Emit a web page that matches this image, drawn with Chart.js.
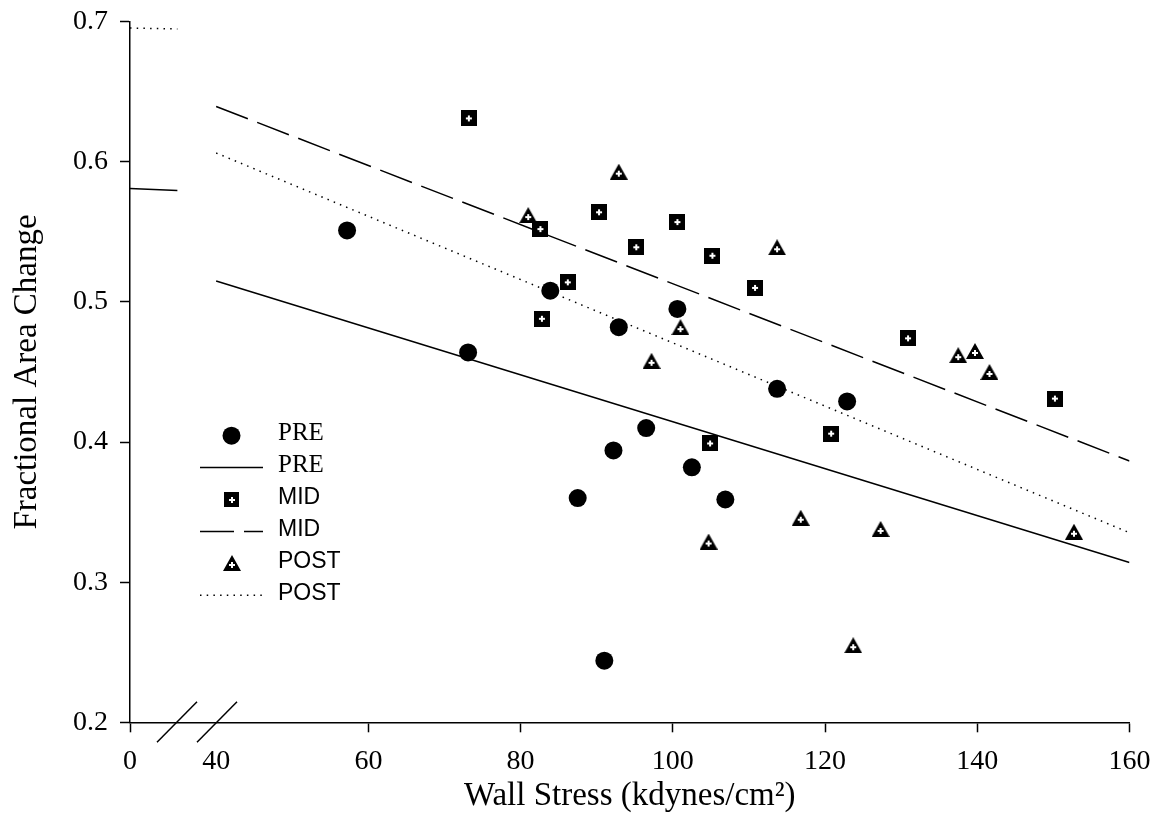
<!DOCTYPE html>
<html lang="en">
<head>
<meta charset="UTF-8">
<title>Fractional Area Change vs Wall Stress</title>
<script src="https://cdn.jsdelivr.net/npm/chart.js@4.4.0/dist/chart.umd.min.js"></script>
<style>
  * { margin: 0; padding: 0; box-sizing: border-box; }
  body { background: #fff; width: 1151px; height: 830px; overflow: hidden; }
</style>
</head>
<body>
<canvas id="chart" width="1151" height="830"></canvas>
<script>
// valores
const preX = [57.2, 73.1, 83.9, 92.9, 100.6, 113.7, 122.9, 96.5, 92.2, 102.5, 87.5, 106.9, 91.0];
const preY = [0.551, 0.464, 0.508, 0.482, 0.495, 0.438, 0.429, 0.410, 0.394, 0.382, 0.360, 0.359, 0.244];

const midX = [73.2, 82.6, 90.3, 100.6, 95.2, 86.2, 82.8, 105.2, 110.8, 130.9, 150.2, 120.8, 104.9];
const midY = [0.631, 0.552, 0.564, 0.557, 0.539, 0.514, 0.488, 0.533, 0.510, 0.474, 0.431, 0.406, 0.399];

const postX = [92.9, 81.0, 97.2, 101.0, 113.7, 137.5, 139.7, 141.6, 104.7, 116.8, 127.3, 152.7, 123.7];
const postY = [0.593, 0.562, 0.458, 0.482, 0.539, 0.462, 0.465, 0.450, 0.329, 0.346, 0.338, 0.336, 0.255];

// retas de regressão (extremos)
const fitX = [40, 160];
const preFitY = [0.515, 0.314];
const midFitY = [0.6395, 0.3865];
const postFitY = [0.6063, 0.3353];

// pedaço das retas no trecho "0" do eixo quebrado
const stubX = [0, 22];
const preStubY = [0.581, 0.5795];
const postStubY = [0.6955, 0.6948];

const xTickValues = [0, 40, 60, 80, 100, 120, 140, 160];
const yTickValues = [0.2, 0.3, 0.4, 0.5, 0.6, 0.7];

// eixo quebrado: 0..40 fica espremido à esquerda
const AXIS_MIN = 28.68;
const SQUEEZE = (40 - AXIS_MIN) / 40;
function axisX(v) { return v >= 40 ? v : AXIS_MIN + v * SQUEEZE; }

function pts(xs, ys) { return xs.map((x, i) => ({ x: axisX(x), y: ys[i] })); }

// marcadores com "+" branco
function plusMark(g, cx, cy) {
  g.fillStyle = '#fff';
  g.fillRect(cx - 1, cy - 3, 2, 6);
  g.fillRect(cx - 3, cy - 1, 6, 2);
}
function squareMarker(size) {
  const c = document.createElement('canvas');
  c.width = c.height = size;
  const g = c.getContext('2d');
  g.fillStyle = '#000';
  g.fillRect(0, 0, size, size);
  plusMark(g, Math.round(size / 2), Math.round(size / 2));
  return c;
}
function triangleMarker(w, h) {
  const c = document.createElement('canvas');
  c.width = w; c.height = h;
  const g = c.getContext('2d');
  g.fillStyle = '#000';
  g.beginPath();
  g.moveTo(w / 2, 0);
  g.lineTo(w, h);
  g.lineTo(0, h);
  g.closePath();
  g.fill();
  plusMark(g, w / 2, Math.round(h * 0.64));
  return c;
}

const squareImg = squareMarker(16);
const triImg = triangleMarker(18, 16);
const squareImgLeg = squareMarker(15);
const triImgLeg = triangleMarker(18, 16);

const DOT = [1.5, 5.2];
const DASH = [34, 10];

const SERIF = "'Liberation Serif', 'Times New Roman', serif";
const SANS = "'Liberation Sans', Arial, sans-serif";

// legenda desenhada à mão (fontes misturadas como no original)
const legendPlugin = {
  id: 'legendaManual',
  afterDatasetsDraw(chart) {
    const { ctx, chartArea } = chart;
    const x0 = chartArea.left + 70;
    const x1 = chartArea.left + 133;
    const xm = (x0 + x1) / 2;
    const tx = chartArea.left + 148;
    const y0 = chartArea.top + 412;
    const step = 31.9;
    const items = [
      { label: 'PRE', font: SERIF, size: 25, kind: 'circle' },
      { label: 'PRE', font: SERIF, size: 25, kind: 'line', dash: [] },
      { label: 'MID', font: SANS, size: 23, kind: 'square' },
      { label: 'MID', font: SANS, size: 23, kind: 'line', dash: DASH },
      { label: 'POST', font: SANS, size: 23, kind: 'tri' },
      { label: 'POST', font: SANS, size: 23, kind: 'line', dash: DOT },
    ];
    ctx.save();
    items.forEach((it, i) => {
      const y = y0 + i * step;
      ctx.fillStyle = '#000';
      ctx.strokeStyle = '#000';
      if (it.kind === 'circle') {
        ctx.beginPath();
        ctx.arc(xm, y + 2, 9, 0, Math.PI * 2);
        ctx.fill();
      } else if (it.kind === 'square') {
        ctx.drawImage(squareImgLeg, Math.round(xm - 7.5), Math.round(y + 2 - 7.5));
      } else if (it.kind === 'tri') {
        ctx.drawImage(triImgLeg, Math.round(xm - 9), Math.round(y + 2 - 8));
      } else {
        ctx.lineWidth = 1.5;
        ctx.setLineDash(it.dash);
        ctx.beginPath();
        ctx.moveTo(x0, y + 2);
        ctx.lineTo(x1, y + 2);
        ctx.stroke();
        ctx.setLineDash([]);
      }
      ctx.font = it.size + 'px ' + it.font;
      ctx.textBaseline = 'middle';
      ctx.textAlign = 'left';
      ctx.fillText(it.label, tx, y);
    });
    ctx.restore();
  }
};

// as duas barrinhas da quebra do eixo x
const breakPlugin = {
  id: 'quebraEixo',
  afterDraw(chart) {
    const { ctx, chartArea } = chart;
    const l = chartArea.left, b = chartArea.bottom;
    ctx.save();
    ctx.strokeStyle = '#000';
    ctx.lineWidth = 1.5;
    [[27, 67], [67, 107]].forEach(([a, c]) => {
      ctx.beginPath();
      ctx.moveTo(l + a, b + 20);
      ctx.lineTo(l + c, b - 20.5);
      ctx.stroke();
    });
    ctx.restore();
  }
};

function noPad(s) { s.paddingLeft = s.paddingRight = s.paddingTop = s.paddingBottom = 0; }

new Chart(document.getElementById('chart'), {
  type: 'scatter',
  data: {
    datasets: [
      { label: 'PRE', data: pts(preX, preY), pointStyle: 'circle', pointRadius: 9,
        backgroundColor: '#000', borderWidth: 0, order: 1 },
      { label: 'PRE fit', data: pts(fitX, preFitY), showLine: true, borderColor: '#000',
        borderWidth: 1.5, pointRadius: 0, order: 2 },
      { label: 'PRE stub', data: pts(stubX, preStubY), showLine: true, borderColor: '#000',
        borderWidth: 1.5, pointRadius: 0, order: 2 },
      { label: 'MID', data: pts(midX, midY), pointStyle: squareImg, pointRadius: 8, order: 1 },
      { label: 'MID fit', data: pts(fitX, midFitY), showLine: true, borderColor: '#000',
        borderWidth: 1.5, borderDash: DASH, pointRadius: 0, order: 2 },
      { label: 'POST', data: pts(postX, postY), pointStyle: triImg, pointRadius: 8, order: 1 },
      { label: 'POST fit', data: pts(fitX, postFitY), showLine: true, borderColor: '#000',
        borderWidth: 1.5, borderDash: DOT, pointRadius: 0, order: 2 },
      { label: 'POST stub', data: pts(stubX, postStubY), showLine: true, borderColor: '#000',
        borderWidth: 1.5, borderDash: DOT, pointRadius: 0, order: 2 },
    ]
  },
  options: {
    responsive: false,
    animation: false,
    devicePixelRatio: 1,
    layout: { padding: { left: 0, right: 21.5, top: 21.7, bottom: 0 } },
    plugins: { legend: { display: false }, tooltip: { enabled: false } },
    scales: {
      x: {
        type: 'linear',
        min: AXIS_MIN,
        max: 160,
        afterBuildTicks: s => { s.ticks = xTickValues.map(v => ({ value: axisX(v) })); },
        afterFit: s => { s.height = 107.7; noPad(s); },
        ticks: {
          callback: (v, i) => String(xTickValues[i]),
          font: { family: SERIF, size: 28 },
          color: '#000',
          padding: 13,
          maxRotation: 0,
          autoSkip: false,
        },
        grid: {
          drawOnChartArea: false,
          tickLength: 10,
          tickWidth: 1.5,
          tickColor: c => (c.tick && c.tick.value === 40 ? 'rgba(0,0,0,0)' : '#000'),
        },
        border: { color: '#000', width: 1.5 },
        title: {
          display: true,
          text: 'Wall Stress (kdynes/cm²)',
          font: { family: SERIF, size: 33 },
          color: '#000',
          padding: { top: 0, bottom: 14 },
        },
      },
      y: {
        type: 'linear',
        min: 0.2,
        max: 0.7,
        afterBuildTicks: s => { s.ticks = yTickValues.map(v => ({ value: v })); },
        afterFit: s => { s.width = 130; noPad(s); },
        ticks: {
          callback: v => v.toFixed(1),
          font: { family: SERIF, size: 28 },
          color: '#000',
          padding: 12,
        },
        grid: { drawOnChartArea: false, tickLength: 10, tickWidth: 1.5, tickColor: '#000' },
        border: { color: '#000', width: 1.5 },
        title: {
          display: true,
          text: 'Fractional Area Change',
          font: { family: SERIF, size: 33 },
          color: '#000',
          padding: { top: 8, bottom: 0 },
        },
      },
    },
  },
  plugins: [legendPlugin, breakPlugin],
});
</script>
</body>
</html>
